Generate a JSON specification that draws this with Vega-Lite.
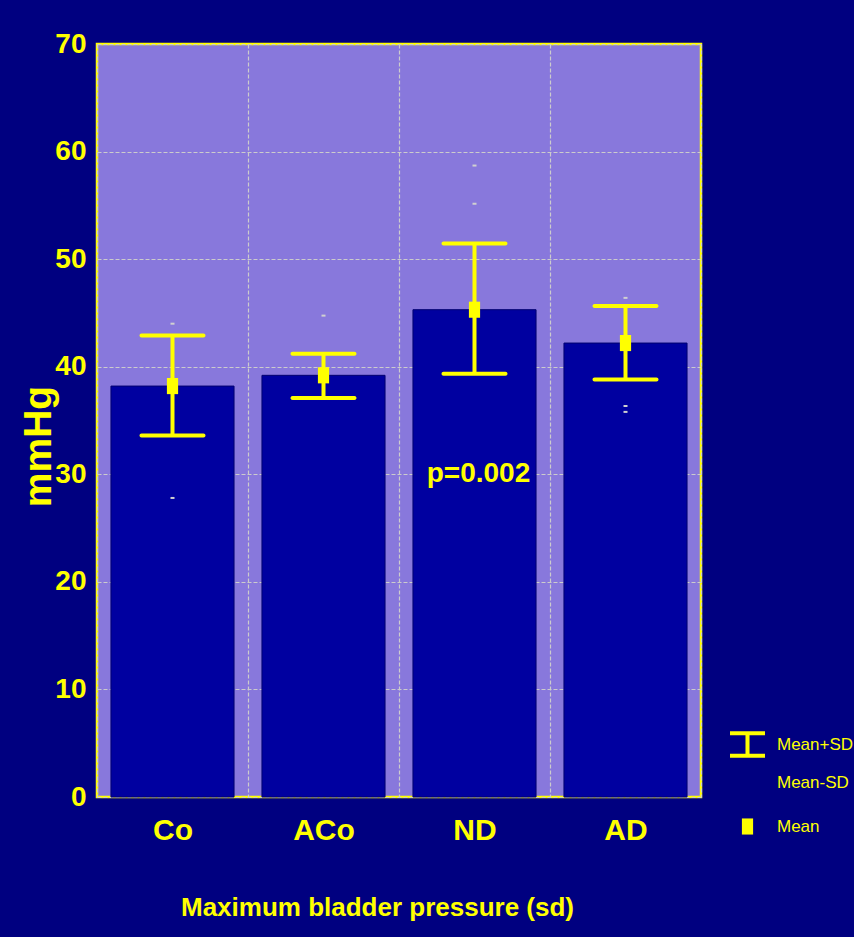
{
  "$schema": "https://vega.github.io/schema/vega-lite/v6.json",
  "autosize": "none",
  "width": 604,
  "height": 753,
  "padding": {"left": 97, "top": 44, "right": 153, "bottom": 140},
  "background": "#000080",
  "datasets": {
    "stats": [
      {"cat": "Co", "mean": 38.2, "lo": 33.6, "hi": 42.9, "stat": "Mean"},
      {"cat": "ACo", "mean": 39.2, "lo": 37.1, "hi": 41.2, "stat": "Mean"},
      {"cat": "ND", "mean": 45.3, "lo": 39.35, "hi": 51.45, "stat": "Mean"},
      {"cat": "AD", "mean": 42.2, "lo": 38.8, "hi": 45.65, "stat": "Mean"}
    ],
    "dashes": [
      {"cat": "Co", "v": 44.0},
      {"cat": "Co", "v": 27.8},
      {"cat": "ACo", "v": 44.75},
      {"cat": "ND", "v": 58.7},
      {"cat": "ND", "v": 55.15},
      {"cat": "AD", "v": 46.4},
      {"cat": "AD", "v": 36.35},
      {"cat": "AD", "v": 35.8}
    ],
    "notes": [
      {"cat": "ND", "v": 30, "label": "p=0.002"}
    ]
  },
  "encoding": {
    "x": {
      "field": "cat",
      "type": "nominal",
      "sort": ["Co", "ACo", "ND", "AD"],
      "scale": {"domain": ["Co", "ACo", "ND", "AD"], "paddingInner": 0, "paddingOuter": 0},
      "axis": {
        "title": "Maximum bladder pressure (sd)",
        "labelAngle": 0,
        "labelFontSize": 30,
        "labelPadding": 18,
        "tickBand": "extent",
        "titleFontSize": 26,
        "titleX": 280,
        "titleY": 118,
        "titleAlign": "center",
        "titleBaseline": "alphabetic",
        "titleAnchor": null
      }
    }
  },
  "layer": [
    {
      "data": {"name": "stats"},
      "mark": {"type": "bar", "color": "#0000a0", "stroke": "#000070", "strokeWidth": 1, "width": {"band": 0.815}},
      "encoding": {
        "y": {
          "field": "mean",
          "type": "quantitative",
          "title": "mmHg",
          "scale": {"domain": [0, 70], "nice": false},
          "axis": {
            "values": [0, 10, 20, 30, 40, 50, 60, 70],
            "labelFontSize": 28,
            "labelPadding": 11,
            "titleFontSize": 39,
            "titleX": -47,
            "titleY": 402,
            "titleAngle": -90,
            "titleAlign": "center",
            "titleBaseline": "alphabetic",
            "titleAnchor": null
          }
        }
      }
    },
    {
      "data": {"name": "dashes"},
      "mark": {"type": "tick", "color": "#d0d0d0", "size": 4, "thickness": 2, "opacity": 1},
      "encoding": {
        "y": {"field": "v", "type": "quantitative", "title": "mmHg", "scale": {"domain": [0, 70], "nice": false}}
      }
    },
    {
      "data": {"name": "stats"},
      "mark": {"type": "rule", "color": "#ffff00", "strokeWidth": 4},
      "encoding": {
        "y": {"field": "lo", "type": "quantitative", "title": "mmHg", "scale": {"domain": [0, 70], "nice": false}},
        "y2": {"field": "hi"}
      }
    },
    {
      "data": {"name": "stats"},
      "mark": {"type": "tick", "color": "#ffff00", "size": 66, "thickness": 4, "opacity": 1, "cornerRadius": 2},
      "encoding": {
        "y": {"field": "hi", "type": "quantitative", "title": "mmHg", "scale": {"domain": [0, 70], "nice": false}}
      }
    },
    {
      "data": {"name": "stats"},
      "mark": {"type": "tick", "color": "#ffff00", "size": 66, "thickness": 4, "opacity": 1, "cornerRadius": 2},
      "encoding": {
        "y": {"field": "lo", "type": "quantitative", "title": "mmHg", "scale": {"domain": [0, 70], "nice": false}}
      }
    },
    {
      "data": {"name": "stats"},
      "mark": {"type": "point", "filled": true, "fill": "#ffff00", "strokeWidth": 0, "size": 1225, "opacity": 1},
      "encoding": {
        "y": {"field": "mean", "type": "quantitative", "title": "mmHg", "scale": {"domain": [0, 70], "nice": false}},
        "shape": {
          "field": "stat",
          "type": "nominal",
          "scale": {
            "domain": ["Mean+SD", "Mean-SD", "Mean"],
            "range": [
              "M-1,-0.76H1V-0.53H0.115V0.53H1V0.76H-1V0.53H-0.115V-0.53H-1Z",
              "M-0.01,-0.2L0.01,-0.2M-0.01,1.1L0.01,1.1",
              "M-0.32,-0.46H0.32V0.46H-0.32Z"
            ]
          },
          "legend": {
            "orient": "none",
            "legendX": 633,
            "legendY": 683,
            "direction": "vertical",
            "title": null,
            "padding": 0,
            "symbolSize": 1225,
            "symbolFillColor": "#ffff00",
            "symbolStrokeWidth": 0,
            "symbolOpacity": 1,
            "labelColor": "#ffff00",
            "labelFont": "Liberation Sans",
            "labelFontWeight": "normal",
            "labelFontSize": 17,
            "labelOffset": 12,
            "rowPadding": 7
          }
        }
      }
    },
    {
      "data": {"name": "notes"},
      "mark": {"type": "text", "color": "#ffff00", "font": "Liberation Sans", "fontWeight": "bold", "fontSize": 28, "baseline": "middle", "align": "center", "dx": 4},
      "encoding": {
        "y": {"field": "v", "type": "quantitative", "title": "mmHg", "scale": {"domain": [0, 70], "nice": false}},
        "text": {"field": "label"}
      }
    }
  ],
  "config": {
    "view": {"fill": "#8878dc", "stroke": "#ffff00", "strokeWidth": 2.5},
    "axis": {
      "domain": false,
      "ticks": false,
      "grid": true,
      "gridColor": "#cccccc",
      "gridDash": [4, 2],
      "gridWidth": 1.2,
      "gridOpacity": 1,
      "labelColor": "#ffff00",
      "titleColor": "#ffff00",
      "labelFont": "Liberation Sans",
      "labelFontWeight": "bold",
      "titleFont": "Liberation Sans",
      "titleFontWeight": "bold"
    }
  }
}
